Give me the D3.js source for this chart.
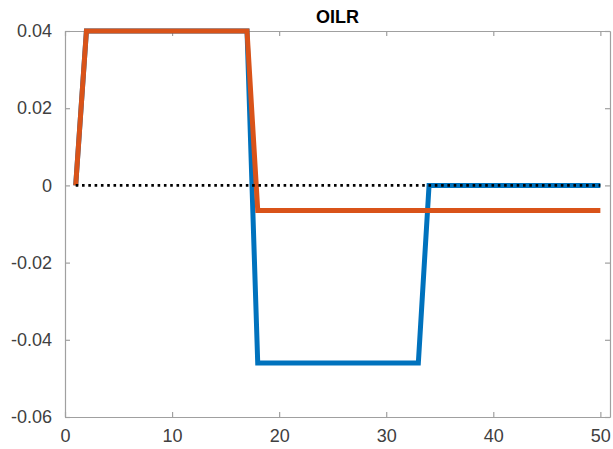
<!DOCTYPE html>
<html>
<head>
<meta charset="utf-8">
<script src="https://cdn.jsdelivr.net/npm/d3@7"></script>
<style>
  html, body { margin: 0; padding: 0; background: #fff; }
  svg { display: block; }
</style>
</head>
<body>
<svg id="chart" width="613" height="449"></svg>
<script>
// Horizon (periods 1..50) and the two impulse responses of OILR
const periods = [
  1, 2, 3, 4, 5, 6, 7, 8, 9, 10, 11, 12, 13, 14, 15, 16, 17, 18, 19, 20,
  21, 22, 23, 24, 25, 26, 27, 28, 29, 30, 31, 32, 33, 34, 35, 36, 37, 38, 39, 40,
  41, 42, 43, 44, 45, 46, 47, 48, 49, 50
];
const responseA = [
  0, 0.04, 0.04, 0.04, 0.04, 0.04, 0.04, 0.04, 0.04, 0.04,
  0.04, 0.04, 0.04, 0.04, 0.04, 0.04, 0.04, -0.046, -0.046, -0.046,
  -0.046, -0.046, -0.046, -0.046, -0.046, -0.046, -0.046, -0.046, -0.046, -0.046,
  -0.046, -0.046, -0.046, 0, 0, 0, 0, 0, 0, 0,
  0, 0, 0, 0, 0, 0, 0, 0, 0, 0
];
const responseB = [
  0, 0.04, 0.04, 0.04, 0.04, 0.04, 0.04, 0.04, 0.04, 0.04,
  0.04, 0.04, 0.04, 0.04, 0.04, 0.04, 0.04, -0.0065, -0.0065, -0.0065,
  -0.0065, -0.0065, -0.0065, -0.0065, -0.0065, -0.0065, -0.0065, -0.0065, -0.0065, -0.0065,
  -0.0065, -0.0065, -0.0065, -0.0065, -0.0065, -0.0065, -0.0065, -0.0065, -0.0065, -0.0065,
  -0.0065, -0.0065, -0.0065, -0.0065, -0.0065, -0.0065, -0.0065, -0.0065, -0.0065, -0.0065
];
const baselineLevel = 0;

const xTicks = [0, 10, 20, 30, 40, 50];
const yTicks = [-0.06, -0.04, -0.02, 0, 0.02, 0.04];
const yTickLabels = ["-0.06", "-0.04", "-0.02", "0", "0.02", "0.04"];
const title = "OILR";

const svg = d3.select("#chart");
const plotLeft = 65, plotRight = 610, plotTop = 31, plotBottom = 417;

const x = d3.scaleLinear().domain([0, 50.9]).range([plotLeft, plotRight]);
const y = d3.scaleLinear().domain([-0.06, 0.04]).range([plotBottom, plotTop]);

const axisColor = "#a0a0a0";
const textColor = "#404040";
const font = "'Liberation Sans', Arial, sans-serif";

// Box axes with inward ticks mirrored on top and right
const gx = svg.append("g").attr("transform", `translate(0,${plotBottom})`)
  .call(d3.axisBottom(x).tickValues(xTicks).tickSizeInner(-5).tickSizeOuter(0)
    .tickPadding(12).tickFormat(d3.format("d")));
const gxTop = svg.append("g").attr("transform", `translate(0,${plotTop})`)
  .call(d3.axisTop(x).tickValues(xTicks).tickSizeInner(-5).tickSizeOuter(0).tickFormat(""));
const gy = svg.append("g").attr("transform", `translate(${plotLeft},0)`)
  .call(d3.axisLeft(y).tickValues(yTicks).tickSizeInner(-5).tickSizeOuter(0)
    .tickPadding(13).tickFormat((d, i) => yTickLabels[i]));
const gyRight = svg.append("g").attr("transform", `translate(${plotRight},0)`)
  .call(d3.axisRight(y).tickValues(yTicks).tickSizeInner(-5).tickSizeOuter(0).tickFormat(""));

[gx, gxTop, gy, gyRight].forEach(g => {
  g.select(".domain").attr("stroke", axisColor).attr("stroke-width", 1.2);
  g.selectAll(".tick line").attr("stroke", axisColor).attr("stroke-width", 1.2);
  g.selectAll(".tick text").attr("fill", textColor)
    .style("font-family", font).style("font-size", "18px");
});

const line = d3.line().x((d, i) => x(periods[i])).y(d => y(d));

svg.append("path").datum(responseA)
  .attr("d", line).attr("fill", "none")
  .attr("stroke", "#0072BD").attr("stroke-width", 5)
  .attr("stroke-linejoin", "miter");

svg.append("path").datum(responseB)
  .attr("d", line).attr("fill", "none")
  .attr("stroke", "#D95319").attr("stroke-width", 5)
  .attr("stroke-linejoin", "miter");

// Dotted zero reference line
svg.append("path").datum(periods.map(() => baselineLevel))
  .attr("d", line).attr("fill", "none")
  .attr("stroke", "#000").attr("stroke-width", 2.6)
  .attr("stroke-dasharray", "2.6,3.7");

svg.append("text")
  .attr("x", (plotLeft + plotRight) / 2).attr("y", 23)
  .attr("text-anchor", "middle")
  .style("font-family", font).style("font-size", "18px").style("font-weight", "bold")
  .attr("fill", "#000")
  .text(title);
</script>
</body>
</html>
